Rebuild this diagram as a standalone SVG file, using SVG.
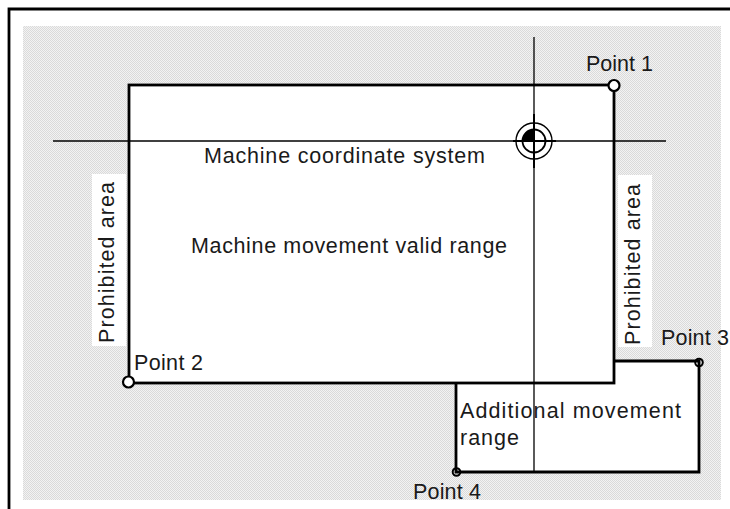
<svg xmlns="http://www.w3.org/2000/svg" width="730" height="509" viewBox="0 0 730 509">
<style>
.t{font-family:"Liberation Sans",Arial,sans-serif;font-size:21.5px;fill:#1a1a1a}
.thick{stroke:#000;stroke-width:2.8}
.thin{fill:none;stroke:#000;stroke-width:1.3}
</style>
<defs>
<pattern id="dots" width="2" height="2" patternUnits="userSpaceOnUse">
<rect width="2" height="2" fill="#f3f3f3"/>
<rect width="1" height="1" fill="#dadada"/>
<rect x="1" y="1" width="1" height="1" fill="#dadada"/>
</pattern>
</defs>
<rect width="730" height="509" fill="#fff"/>
<path d="M9,509 V9 H730" fill="none" stroke="#000" stroke-width="2.8"/>
<rect x="23" y="26" width="698" height="474" fill="url(#dots)"/>
<g id="additional-range">
<path d="M456,383 H614 V361 H699 V472 H456 Z" fill="#fff" stroke="none"/>
<path d="M614,361 H699 V472 H456 V383" fill="none" class="thick"/>
</g>
<g id="main-range">
<rect x="129" y="85" width="485" height="298" fill="#fff" class="thick"/>
</g>
<g id="prohibited-left">
<rect x="92" y="174" width="34" height="172" fill="#fff"/>
<text class="t" transform="translate(114,343) rotate(-90)" textLength="161" lengthAdjust="spacing">Prohibited area</text>
</g>
<g id="prohibited-right">
<rect x="618" y="175" width="34" height="172" fill="#fff"/>
<text class="t" transform="translate(640,345) rotate(-90)" textLength="161" lengthAdjust="spacing">Prohibited area</text>
</g>
<g id="connectors">
<line x1="53" y1="141" x2="666" y2="141" class="thin"/>
<line x1="534" y1="37" x2="534" y2="472" class="thin"/>
</g>
<g id="origin-symbol">
<circle cx="534" cy="141" r="18" fill="none" stroke="#000" stroke-width="1.4"/>
<circle cx="534" cy="141" r="11.5" fill="#fff" stroke="#000" stroke-width="1.8"/>
<path d="M534,141 V129.5 A11.5,11.5 0 0 0 522.5,141 Z" fill="#000"/>
<line x1="534" y1="114" x2="534" y2="168" stroke="#000" stroke-width="2"/>
<line x1="513" y1="141" x2="556" y2="141" stroke="#000" stroke-width="2"/>
</g>
<g id="point1">
<circle cx="614" cy="85.5" r="5.5" fill="#fff" stroke="#000" stroke-width="2.2"/>
<text class="t" x="586" y="71" textLength="67" lengthAdjust="spacing">Point 1</text>
</g>
<g id="point2">
<circle cx="128.5" cy="382" r="5.5" fill="#fff" stroke="#000" stroke-width="2.2"/>
<text class="t" x="134" y="370" textLength="69" lengthAdjust="spacing">Point 2</text>
</g>
<g id="point3">
<circle cx="699" cy="362.5" r="3.8" fill="none" stroke="#000" stroke-width="2"/>
<text class="t" x="661" y="345" textLength="68" lengthAdjust="spacing">Point 3</text>
</g>
<g id="point4">
<circle cx="456.5" cy="472" r="3.8" fill="none" stroke="#000" stroke-width="2"/>
<text class="t" x="413" y="499" textLength="68" lengthAdjust="spacing">Point 4</text>
</g>
<g id="labels">
<text class="t" x="204" y="163" textLength="281" lengthAdjust="spacing">Machine coordinate system</text>
<text class="t" x="191" y="253" textLength="316" lengthAdjust="spacing">Machine movement valid range</text>
<text class="t" x="460" y="418" textLength="221" lengthAdjust="spacing">Additional movement</text>
<text class="t" x="460" y="445" textLength="59" lengthAdjust="spacing">range</text>
</g>
</svg>
